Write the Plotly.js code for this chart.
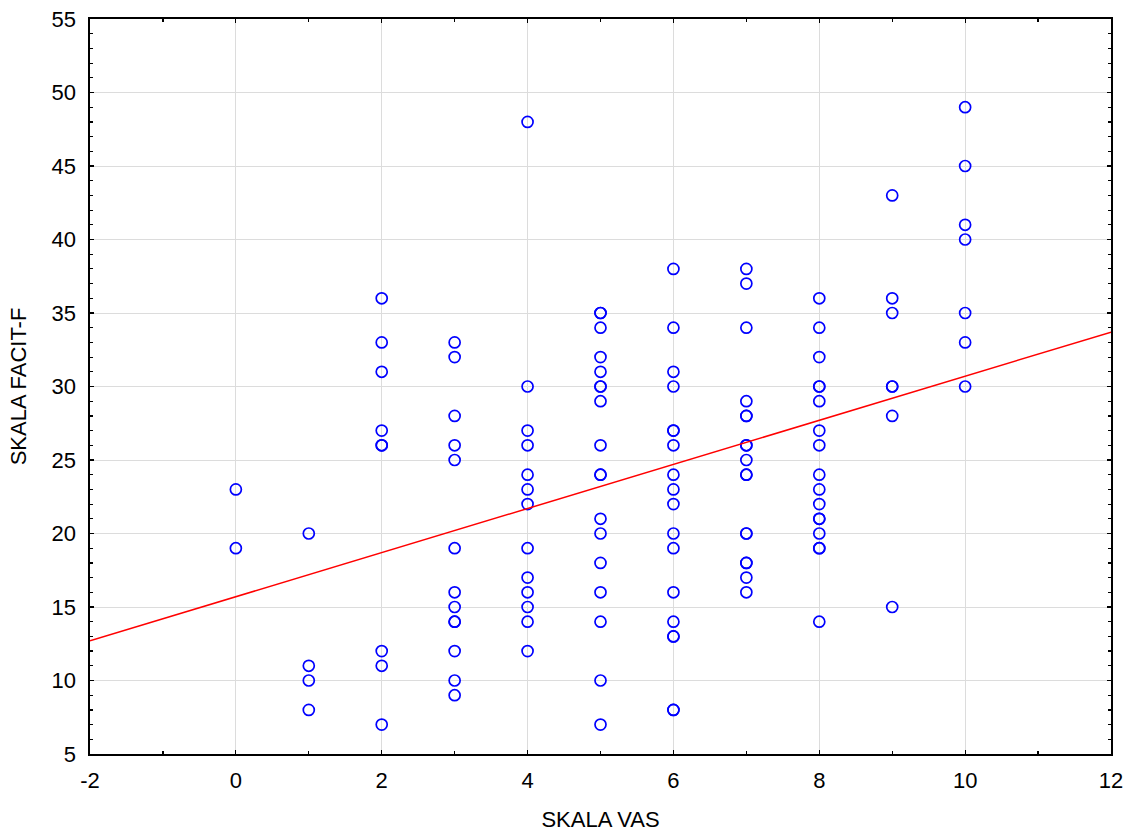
<!DOCTYPE html>
<html>
<head>
<meta charset="utf-8">
<script src="https://cdn.plot.ly/plotly-3.0.1.min.js"></script>
<style>
html,body{margin:0;padding:0;background:#fff;}
#chart{width:1135px;height:832px;}
</style>
</head>
<body>
<div id="chart"></div>
<script>
// VAS scale levels (x) and FACIT-F scores (y) observed at each level
var vasLevels = [0, 1, 2, 3, 4, 5, 6, 7, 8, 9, 10];
var facitAt0 = [23, 19];
var facitAt1 = [20, 11, 10, 8];
var facitAt2 = [36, 33, 31, 27, 26, 26, 12, 11, 7];
var facitAt3 = [33, 32, 28, 26, 25, 19, 16, 15, 14, 14, 12, 10, 9];
var facitAt4 = [48, 30, 27, 26, 24, 23, 22, 19, 17, 16, 15, 14, 12];
var facitAt5 = [35, 35, 34, 32, 31, 30, 30, 29, 26, 24, 24, 21, 20, 18, 16, 14, 10, 7];
var facitAt6 = [38, 34, 31, 30, 27, 27, 26, 24, 23, 22, 20, 19, 16, 14, 13, 13, 8, 8];
var facitAt7 = [38, 37, 34, 29, 28, 28, 26, 26, 25, 24, 24, 20, 20, 18, 18, 17, 16];
var facitAt8 = [36, 34, 32, 30, 30, 29, 27, 26, 24, 23, 22, 21, 21, 20, 19, 19, 14];
var facitAt9 = [43, 36, 35, 30, 30, 28, 15];
var facitAt10 = [49, 45, 41, 40, 35, 33, 30];

// Fitted regression line, read at the axis ends
var fitX = [-2, 12];
var fitY = [12.7, 33.7];

var xTickVals = [-2, 0, 2, 4, 6, 8, 10, 12];
var xTickText = ['-2', '0', '2', '4', '6', '8', '10', '12'];
var yTickVals = [5, 10, 15, 20, 25, 30, 35, 40, 45, 50, 55];
var yTickText = ['5', '10', '15', '20', '25', '30', '35', '40', '45', '50', '55'];

var groups = [facitAt0, facitAt1, facitAt2, facitAt3, facitAt4, facitAt5,
              facitAt6, facitAt7, facitAt8, facitAt9, facitAt10];
var xs = [], ys = [];
groups.forEach(function (g, i) {
  g.forEach(function (v) { xs.push(vasLevels[i]); ys.push(v); });
});

var font = "Arial, 'Liberation Sans', sans-serif";

var traces = [
  {
    x: xs, y: ys, type: 'scatter', mode: 'markers',
    marker: {symbol: 'circle-open', size: 11, color: '#0000ff', line: {width: 1.7, color: '#0000ff'}},
    hoverinfo: 'x+y', showlegend: false, cliponaxis: false
  },
  {
    x: fitX, y: fitY, type: 'scatter', mode: 'lines',
    line: {color: '#ff0000', width: 1.5},
    showlegend: false
  }
];

var axisCommon = {
  showline: true, linecolor: '#000', linewidth: 1.6, mirror: 'allticks',
  ticks: 'inside', ticklen: 4, tickwidth: 1.2, tickcolor: '#000',
  showgrid: true, gridcolor: '#dcdcdc', gridwidth: 1,
  zeroline: false,
  tickfont: {family: font, size: 22, color: '#000'}
};

var layout = {
  width: 1135, height: 832,
  paper_bgcolor: '#fff', plot_bgcolor: '#fff',
  margin: {l: 90, r: 24, t: 19, b: 78},
  showlegend: false,
  font: {family: font, color: '#000'},
  xaxis: Object.assign({}, axisCommon, {
    range: [-2, 12], tickmode: 'array', tickvals: xTickVals, ticktext: xTickText,
    ticklabelstandoff: 6,
    minor: {dtick: 1, ticks: 'inside', ticklen: 3, tickcolor: '#000', showgrid: false},
    title: {text: 'SKALA VAS', font: {family: font, size: 22, color: '#000'}, standoff: 19}
  }),
  yaxis: Object.assign({}, axisCommon, {
    range: [5, 55], tickmode: 'array', tickvals: yTickVals, ticktext: yTickText,
    ticklabelstandoff: 8,
    minor: {dtick: 1, ticks: 'inside', ticklen: 3, tickcolor: '#000', showgrid: false},
    title: {text: 'SKALA FACIT-F', font: {family: font, size: 22, color: '#000'}, standoff: 19}
  })
};

Plotly.newPlot('chart', traces, layout, {displayModeBar: false, staticPlot: true});
</script>
</body>
</html>
